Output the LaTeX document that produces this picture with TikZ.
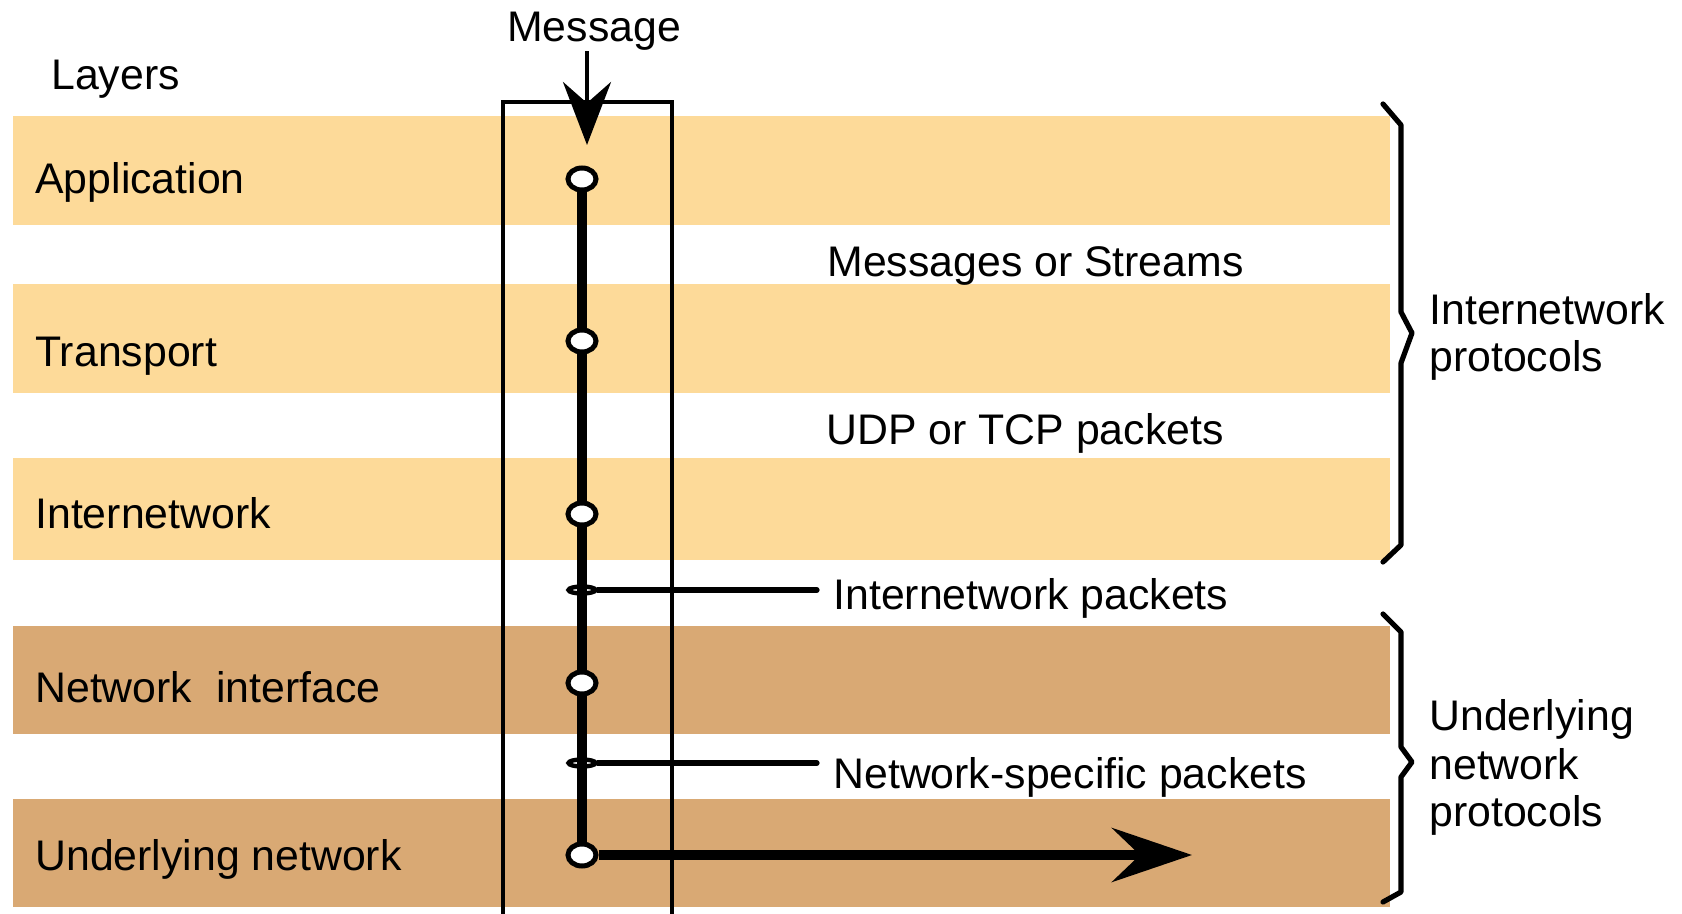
\documentclass[tikz,border=0pt]{standalone}
\usepackage{fontspec}
\setmainfont{Liberation Sans}
\usetikzlibrary{arrows.meta,shapes.geometric}
\definecolor{bandlight}{HTML}{FDDA99}
\definecolor{banddark}{HTML}{D9A974}
\pgfdeclarelayer{bands}
\pgfdeclarelayer{frame}
\pgfsetlayers{bands,frame,main}

\begin{document}
\begin{tikzpicture}[x=0.5pt,y=-0.5pt,
  lbl/.style={anchor=base west, inner sep=0pt, font=\fontsize{21.4pt}{26pt}\selectfont},
  dot/.style={ellipse, draw, fill=white, line width=2.5pt, minimum width=14pt, minimum height=11pt, inner sep=0pt},
  flatdot/.style={ellipse, draw, line width=2.2pt, minimum width=13.5pt, minimum height=3.5pt, inner sep=0pt},
  brace/.style={line width=2.6pt, line cap=round, line join=round},
  tapline/.style={line width=2.6pt, line cap=round},
]
\useasboundingbox (0,0) rectangle (1682,914);

% layer bands
\begin{pgfonlayer}{bands}
  \fill[bandlight] (13,116) rectangle (1390,225);
  \fill[bandlight] (13,284) rectangle (1390,393);
  \fill[bandlight] (13,458) rectangle (1390,560);
  \fill[banddark]  (13,626) rectangle (1390,734);
  \fill[banddark]  (13,799) rectangle (1390,907);
\end{pgfonlayer}

% layer names
\node[lbl] (tLayers) at (51,90) {Layers};
\node[lbl] (tApp) at (35,194) {Application};
\node[lbl] (tTra) at (35,367) {Transport};
\node[lbl] (tInt) at (35,529) {Internetwork};
\node[lbl] (tNet) at (35,702) {Network\ \ interface};
\node[lbl] (tUnd) at (35,870) {Underlying network};

% data units between layers
\node[lbl] (tMsgStr) at (827,277) {Messages or Streams};
\node[lbl] (tUdp) at (826,445) {UDP or TCP packets};
\node[lbl] (tIpk) at (833,610) {Internetwork packets};
\node[lbl] (tNsp) at (833,788) {Network-specific packets};

% protocol groups
\node[lbl] (gA1) at (1429,325) {Internetwork};
\node[lbl] (gA2) at (1429,372) {protocols};
\node[lbl] (gB1) at (1429,730) {Underlying};
\node[lbl] (gB2) at (1429,779) {network};
\node[lbl] (gB3) at (1429,826) {protocols};

% incoming message
\node[lbl, anchor=base] (msg) at (594,42) {Message};
\coordinate (inlet) at (587,145);

% stack path through the layers
\node[dot] (dApp) at (582,179) {};
\node[dot] (dTra) at (582,341) {};
\node[dot] (dInt) at (582,514) {};
\node[dot] (dNet) at (582,683) {};
\node[dot] (dUnd) at (582,855) {};
\node[flatdot] (fInt) at (582,590) {};
\node[flatdot] (fNet) at (582,763) {};
\coordinate (fIntEnd) at (817,590);
\coordinate (fNetEnd) at (817,763);
\coordinate (outtip) at (1192,855);

\begin{pgfonlayer}{frame}
  \draw[line width=2.4pt] (503,916) -- (503,102) -- (672,102) -- (672,916);
  \draw[line width=5.2pt] (dApp) -- (dUnd);
\end{pgfonlayer}

\draw[tapline] (fInt.east) -- (fIntEnd);
\draw[tapline] (fNet.east) -- (fNetEnd);

\draw[line width=2.4pt, -{Stealth[length=31.5pt,width=24pt,inset=10.5pt]}]
  (msg.south -| inlet) -- (inlet);
\draw[line width=4.6pt, -{Stealth[length=40pt,width=27pt,inset=14pt]}]
  (dUnd) -- (outtip);

% braces
\draw[brace] (1383,104) -- (1401,125) -- (1401,312) -- (1412,333) -- (1401,363) -- (1401,545) -- (1383,562);
\draw[brace] (1383,614) -- (1401,632) -- (1401,747) -- (1412,762) -- (1401,777) -- (1401,892) -- (1383,902);
\end{tikzpicture}
\end{document}
